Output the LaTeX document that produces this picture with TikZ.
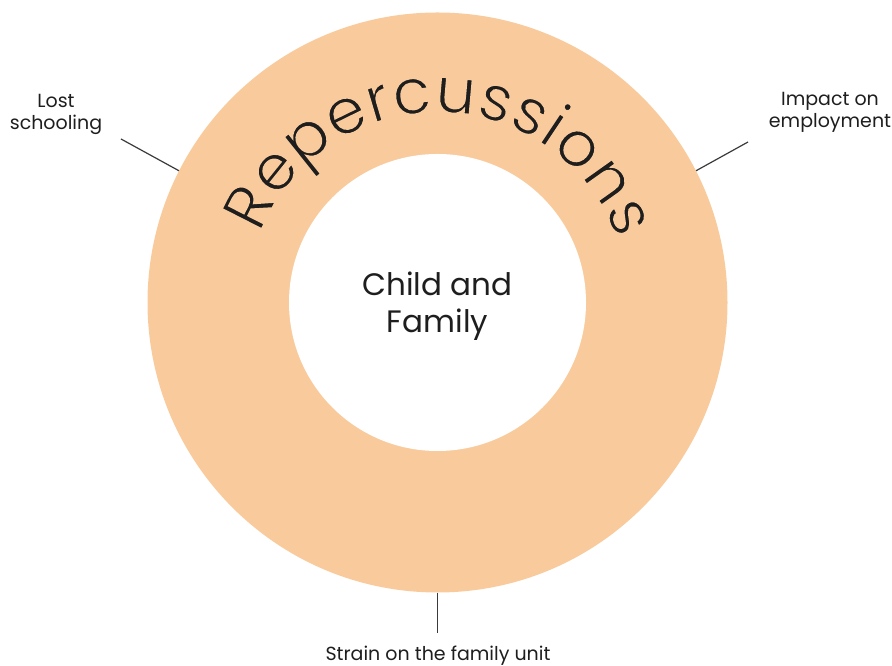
\documentclass[tikz,border=0pt]{standalone}
\usepackage{fontspec}
\setmainfont{Poppins}
\newfontfamily\arcfont{Poppins}
% thin the title strokes: fill the glyphs, then stroke their outlines in the ring colour
\newcommand\thinglyphs{\special{pdf:literal direct 2 Tr 1.7 w 0.976 0.796 0.612 RG}}
\usetikzlibrary{decorations.text,calc}

\definecolor{peach}{HTML}{F9CB9C}
\definecolor{leader}{HTML}{3A3A3A}
\definecolor{ink}{HTML}{1E1E1E}

\begin{document}
\begin{tikzpicture}[x=1pt,y=1pt,
  ringdisc/.style={circle, fill=peach, inner sep=0pt, minimum size=580pt},
  coredisc/.style={circle, fill=white, inner sep=0pt, minimum size=297pt},
  coretext/.style={inner sep=0pt, align=center, text=ink,
    font=\fontsize{31}{37}\selectfont},
  sidetext/.style={inner sep=0pt, align=center, text=ink,
    font=\fontsize{19}{22}\selectfont},
  leaderline/.style={draw=leader, line width=1.2pt}
]
\useasboundingbox (0,0) rectangle (892,666);

% the ring and its hollow centre
\coordinate (C) at (437.5,363.5);
\node[ringdisc] (ring) at (C) {};
\node[coredisc] (core) at (C) {};
\node[coretext] (corelabel) at (437.5,360) {Child and\\Family};

% title set along the upper part of the ring
\path[decorate, decoration={text along path, text align=center,
    text={|\arcfont\fontsize{64}{64}\selectfont\color{ink}\thinglyphs|Repercussions}}]
  ($(C)+(157:190)$) arc[start angle=157, end angle=21, radius=190];

% outer labels
\node[sidetext] (lost) at (56,552) {Lost\\schooling};
\node[sidetext] (impact) at (830,553.5) {Impact on\\employment};
\node[sidetext, anchor=base] (strain) at (438,5) {Strain on the family unit};

% leader lines from the ring towards the labels
\coordinate (lostend) at (121,527);
\coordinate (impactend) at (748,524);
\coordinate (strainend) at (437.5,33);
\draw[leaderline] (ring.153.4) -- (lostend);
\draw[leaderline] (ring.27.2) -- (impactend);
\draw[leaderline] (ring.south) -- (strainend);
\end{tikzpicture}
\end{document}
